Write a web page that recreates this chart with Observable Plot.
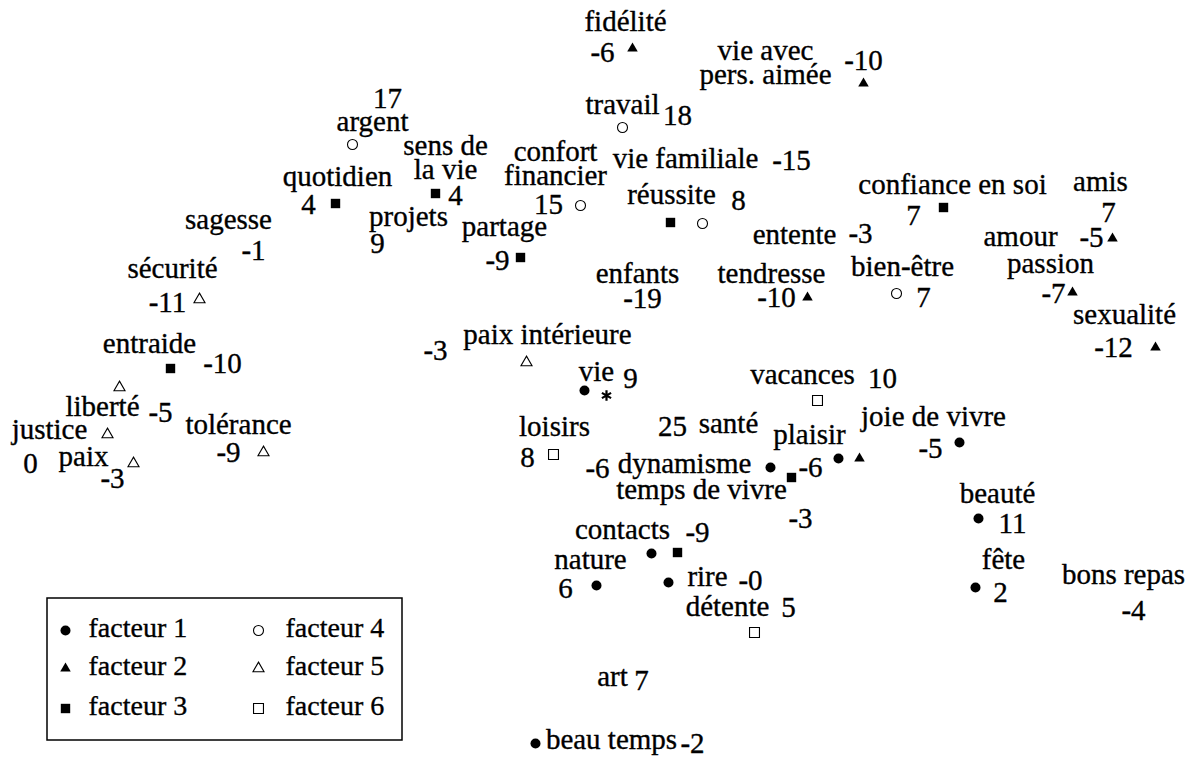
<!DOCTYPE html>
<html>
<head>
<meta charset="utf-8">
<script src="https://cdn.jsdelivr.net/npm/d3@7"></script>
<script src="https://cdn.jsdelivr.net/npm/@observablehq/plot@0.6"></script>
<style>
  html, body { margin: 0; padding: 0; background: #fff; }
  #chart svg { display: block; }
</style>
</head>
<body>
<div id="chart"></div>
<script>
// ---- Data (map coordinates; y grows downward) ----
const names = [
  "fidélité", "vie avec\npers. aimée", "travail", "argent", "quotidien",
  "sens de\nla vie", "projets", "sagesse", "confort\nfinancier", "vie familiale",
  "réussite", "partage", "enfants", "tendresse", "entente",
  "bien-être", "confiance en soi", "amis", "amour", "passion",
  "sexualité", "sécurité", "entraide", "liberté", "justice",
  "paix", "tolérance", "paix intérieure", "vie", "vacances",
  "loisirs", "santé", "dynamisme", "plaisir", "temps de vivre",
  "joie de vivre", "beauté", "fête", "bons repas", "contacts",
  "nature", "rire", "détente", "art", "beau temps"
];
const valueLabels = [
  "-6", "-10", "18", "17", "4",
  "4", "9", "-1", "15", "-15",
  "8", "-9", "-19", "-10", "-3",
  "7", "7", "7", "-5", "-7",
  "-12", "-11", "-10", "-5", "0",
  "-3", "-9", "-3", "9", "10",
  "8", "25", "-6", "-6", "-3",
  "-5", "11", "2", "-4", "-9",
  "6", "-0", "5", "7", "-2"
];
// factor of each item (0 = no marker drawn)
const factors = [
  2, 2, 4, 4, 3,
  3, 0, 0, 4, 4,
  3, 3, 0, 2, 0,
  4, 3, 0, 2, 2,
  2, 5, 3, 5, 5,
  5, 5, 5, 1, 6,
  6, 1, 1, 2, 3,
  1, 1, 1, 0, 3,
  1, 1, 6, 1, 1
];
const dim1 = [
  632, 863, 622, 352, 335,
  435, null, null, 580, 702,
  670, 520, null, 807, null,
  896, 943, null, 1112, 1072,
  1155, 199, 170, 119, 107,
  133, 263, 526, 584, 817,
  553, 838, 770, 859, 791,
  959, 978, 975, null, 677,
  596, 668, 754, 651, 535
];
const dim2 = [
  48, 83, 127, 144, 203,
  193, null, null, 205, 223,
  222, 257, null, 297, null,
  293, 207, null, 238, 292,
  347, 299, 368, 387, 434,
  463, 452, 362, 390, 400,
  454, 458, 467, 458, 477,
  442, 518, 587, null, 552,
  585, 582, 632, 553, 743
];
// where the item names and their numbers were printed
const nameX = [
  625, 765, 622, 372, 337,
  445, 408, 228, 555, 685,
  671, 504, 637, 771, 794,
  902, 952, 1100, 1020, 1050,
  1124, 172, 149, 102, 49,
  83, 238, 547, 596, 802,
  554, 728, 684, 809, 701,
  933, 997, 1003, 1123, 622,
  590, 707, 727, 612, 611
];
const nameY = [
  25, 66, 108, 125, 180,
  161, 220, 223, 167, 162,
  198, 230, 277, 277, 238,
  270, 188, 185, 240, 267,
  318, 272, 347, 410, 433,
  460, 428, 338, 375, 378,
  430, 427, 467, 438, 493,
  420, 497, 563, 578, 533,
  563, 580, 610, 680, 743
];
const valueX = [
  602, 863, 677, 387, 308,
  455, 377, 253, 548, 791,
  738, 497, 642, 776, 860,
  923, 913, 1108, 1091, 1053,
  1113, 167, 222, 160, 30,
  112, 228, 435, 630, 882,
  527, 672, 597, 810, 800,
  930, 1012, 1000, 1133, 697,
  565, 750, 788, 641, 692
];
const valueY = [
  52, 60, 115, 98, 204,
  195, 243, 250, 204, 160,
  200, 260, 298, 297, 233,
  297, 215, 212, 237, 293,
  347, 302, 363, 412, 463,
  478, 452, 350, 378, 378,
  457, 426, 468, 467, 518,
  448, 523, 592, 610, 532,
  588, 580, 607, 680, 743
];
// an extra asterisk marker next to "vie"
const asteriskX = [606];
const asteriskY = [395];

// legend
const legendLabels = ["facteur 1", "facteur 2", "facteur 3", "facteur 4", "facteur 5", "facteur 6"];

// ---- Build ----
const items = names.map((name, i) => ({
  name, value: valueLabels[i], factor: factors[i],
  mx: dim1[i], my: dim2[i], nx: nameX[i], ny: nameY[i], vx: valueX[i], vy: valueY[i]
}));

const symbolOf = {1: "circle", 2: "triangle", 3: "square", 4: "circle", 5: "triangle", 6: "square"};
const radiusOf = {1: 5, 2: 3.9, 3: 5.3, 4: 5, 5: 4.1, 6: 5.6};
const filled = f => f <= 3;

const legendRows = [630, 668, 708];
const legend = legendLabels.map((label, i) => ({
  label, factor: i + 1,
  x: i < 3 ? 65 : 258,
  tx: i < 3 ? 88 : 285,
  y: legendRows[i % 3]
}));

const FONT = "Liberation Serif";
const textStyle = {fontFamily: FONT, fill: "black", stroke: "black", strokeWidth: 0.35};

function factorDots(data, f, xk, yk) {
  return Plot.dot(data.filter(d => d.factor === f), {
    x: xk, y: yk,
    symbol: symbolOf[f],
    r: radiusOf[f],
    fill: filled(f) ? "black" : "white",
    stroke: "black",
    strokeWidth: filled(f) ? 0 : 1.1
  });
}

const marks = [];
for (let f = 1; f <= 6; f++) marks.push(factorDots(items, f, "mx", "my"));
marks.push(Plot.dot(asteriskX.map((x, i) => ({x, y: asteriskY[i]})), {
  x: "x", y: "y", symbol: "asterisk", r: 5, stroke: "black", strokeWidth: 2.2
}));
marks.push(Plot.text(items, {
  x: "nx", y: "ny", text: "name", fontSize: 29, lineHeight: 0.83, dy: -2, ...textStyle
}));
marks.push(Plot.text(items, {
  x: "vx", y: "vy", text: "value", fontSize: 29, ...textStyle
}));
// legend box
marks.push(Plot.rect([0], {x1: 47, x2: 402, y1: 598, y2: 740, fill: "white", stroke: "black", strokeWidth: 1.5}));
for (let f = 1; f <= 6; f++) marks.push(factorDots(legend, f, "x", "y"));
marks.push(Plot.text(legend, {
  x: "tx", y: "y", text: "label", textAnchor: "start", fontSize: 28, dy: -2, ...textStyle
}));

const chart = Plot.plot({
  width: 1190,
  height: 758,
  margin: 0,
  x: {domain: [0, 1190], range: [0, 1190], axis: null},
  y: {domain: [0, 758], range: [0, 758], axis: null},
  style: {fontFamily: FONT, background: "white", color: "black"},
  marks
});
document.getElementById("chart").appendChild(chart);
</script>
</body>
</html>
